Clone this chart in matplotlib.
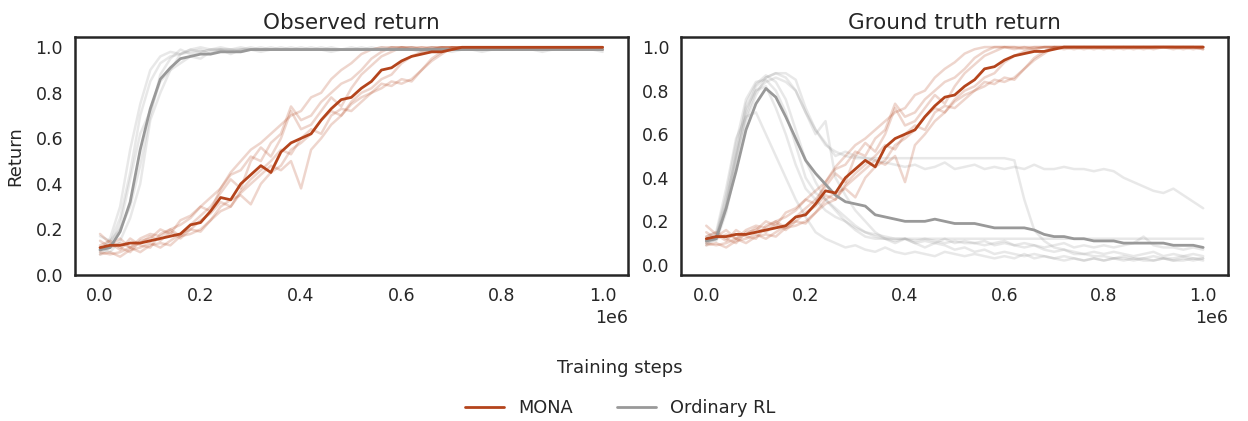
import matplotlib
matplotlib.use("Agg")
import matplotlib.pyplot as plt
import seaborn as sns

sns.set_style("white")
plt.rcParams['font.family'] = ['DejaVu Sans']

# training steps (every 20k)
steps = [i * 20000 for i in range(51)]

mona_color = "#b4441c"
rl_color = "#999999"

# ---- MONA (observed == ground truth) ----
mona_mean = [0.12, 0.13, 0.13, 0.14, 0.14, 0.15, 0.16, 0.17, 0.18, 0.22,
             0.23, 0.28, 0.34, 0.33, 0.40, 0.44, 0.48, 0.45, 0.54, 0.58,
             0.60, 0.62, 0.68, 0.73, 0.77, 0.78, 0.82, 0.85, 0.90, 0.91,
             0.94, 0.96, 0.97, 0.98, 0.98, 0.99, 1.00, 1.00, 1.00, 1.00,
             1.00, 1.00, 1.00, 1.00, 1.00, 1.00, 1.00, 1.00, 1.00, 1.00, 1.00]

mona_runs = [
    [0.15, 0.12, 0.14, 0.12, 0.16, 0.18, 0.17, 0.20, 0.22, 0.25,
     0.30, 0.34, 0.38, 0.45, 0.50, 0.55, 0.58, 0.62, 0.66, 0.70,
     0.72, 0.78, 0.80, 0.86, 0.90, 0.93, 0.97, 0.99, 1.00, 1.00,
     1.00, 0.99, 1.00, 1.00, 1.00, 1.00, 0.99, 1.00, 1.00, 1.00,
     1.00, 1.00, 0.99, 1.00, 1.00, 1.00, 1.00, 1.00, 1.00, 0.99, 1.00],
    [0.10, 0.09, 0.10, 0.12, 0.10, 0.13, 0.14, 0.13, 0.17, 0.18,
     0.20, 0.24, 0.28, 0.30, 0.36, 0.40, 0.44, 0.48, 0.46, 0.50,
     0.38, 0.55, 0.60, 0.66, 0.70, 0.75, 0.78, 0.80, 0.82, 0.85,
     0.84, 0.86, 0.90, 0.94, 0.97, 1.00, 1.00, 1.00, 0.99, 1.00,
     1.00, 1.00, 1.00, 1.00, 0.99, 1.00, 1.00, 1.00, 1.00, 1.00, 1.00],
    [0.18, 0.14, 0.11, 0.16, 0.13, 0.12, 0.18, 0.20, 0.17, 0.22,
     0.26, 0.30, 0.36, 0.42, 0.38, 0.50, 0.56, 0.52, 0.60, 0.72,
     0.64, 0.66, 0.72, 0.78, 0.74, 0.82, 0.88, 0.92, 0.96, 0.98,
     1.00, 1.00, 1.00, 0.99, 1.00, 1.00, 1.00, 1.00, 1.00, 1.00,
     0.99, 1.00, 1.00, 1.00, 1.00, 1.00, 1.00, 0.99, 1.00, 1.00, 1.00],
    [0.09, 0.10, 0.08, 0.11, 0.12, 0.14, 0.12, 0.15, 0.18, 0.20,
     0.19, 0.24, 0.30, 0.33, 0.35, 0.31, 0.40, 0.45, 0.48, 0.55,
     0.58, 0.62, 0.68, 0.72, 0.70, 0.76, 0.80, 0.82, 0.86, 0.88,
     0.93, 0.96, 0.98, 0.99, 1.00, 1.00, 1.00, 1.00, 1.00, 0.99,
     1.00, 1.00, 1.00, 1.00, 1.00, 0.99, 1.00, 1.00, 1.00, 1.00, 0.99],
    [0.13, 0.15, 0.12, 0.10, 0.15, 0.16, 0.20, 0.18, 0.24, 0.26,
     0.30, 0.28, 0.38, 0.44, 0.46, 0.52, 0.50, 0.58, 0.62, 0.74,
     0.68, 0.70, 0.76, 0.80, 0.84, 0.86, 0.90, 0.95, 0.98, 1.00,
     1.00, 1.00, 0.99, 1.00, 1.00, 1.00, 1.00, 1.00, 1.00, 1.00,
     1.00, 0.99, 1.00, 1.00, 1.00, 1.00, 1.00, 1.00, 0.99, 1.00, 1.00],
    [0.11, 0.13, 0.16, 0.12, 0.14, 0.17, 0.15, 0.19, 0.16, 0.20,
     0.24, 0.27, 0.32, 0.30, 0.37, 0.42, 0.46, 0.50, 0.55, 0.53,
     0.60, 0.64, 0.62, 0.70, 0.73, 0.72, 0.76, 0.80, 0.84, 0.83,
     0.86, 0.85, 0.90, 0.95, 0.98, 1.00, 1.00, 0.99, 1.00, 1.00,
     1.00, 1.00, 1.00, 0.99, 1.00, 1.00, 1.00, 1.00, 1.00, 1.00, 0.99],
]

# ---- Ordinary RL, observed return ----
rl_obs_mean = [0.11, 0.12, 0.19, 0.32, 0.55, 0.73, 0.86, 0.91, 0.95, 0.96,
               0.97, 0.97, 0.98, 0.98, 0.98, 0.99, 0.99, 0.99, 0.99, 0.99,
               0.99, 0.99, 0.99, 0.99, 0.99, 0.99, 0.99, 0.99, 0.99, 0.99,
               0.99, 0.99, 0.99, 0.99, 0.99, 0.99, 0.99, 0.99, 0.99, 0.99,
               0.99, 0.99, 0.99, 0.99, 0.99, 0.99, 0.99, 0.99, 0.99, 0.99, 0.99]

rl_obs_runs = [
    [0.11, 0.14, 0.25, 0.45, 0.70, 0.85, 0.93, 0.96, 0.97, 0.98,
     0.99, 0.97, 0.99, 0.98, 0.99, 1.00, 0.99, 1.00, 0.99, 0.99,
     1.00, 0.99, 0.99, 1.00, 0.99, 0.99, 1.00, 0.99, 0.99, 0.99,
     1.00, 0.99, 0.99, 0.99, 1.00, 0.99, 0.99, 0.99, 0.98, 0.99,
     0.99, 0.99, 1.00, 0.99, 0.99, 0.99, 0.99, 0.99, 0.99, 0.99, 0.99],
    [0.17, 0.15, 0.20, 0.30, 0.48, 0.70, 0.88, 0.95, 0.99, 0.97,
     0.98, 0.99, 1.00, 0.99, 0.99, 0.99, 1.00, 0.99, 0.99, 0.99,
     0.99, 1.00, 0.99, 0.99, 0.99, 0.99, 0.99, 1.00, 0.99, 0.99,
     0.99, 0.99, 0.99, 1.00, 0.99, 0.99, 0.99, 0.99, 0.99, 0.99,
     1.00, 0.99, 0.99, 0.99, 0.99, 0.99, 1.00, 0.99, 0.99, 0.99, 0.98],
    [0.09, 0.12, 0.22, 0.42, 0.62, 0.72, 0.85, 0.90, 0.93, 0.96,
     0.95, 0.98, 0.99, 0.97, 0.99, 0.99, 0.98, 0.99, 1.00, 0.99,
     0.99, 0.99, 0.99, 0.98, 0.99, 1.00, 0.99, 0.99, 0.99, 0.99,
     0.99, 1.00, 0.99, 0.99, 0.99, 0.98, 0.99, 0.99, 0.99, 1.00,
     0.99, 0.99, 0.99, 0.99, 0.98, 0.99, 0.99, 0.99, 0.99, 0.99, 0.99],
    [0.12, 0.10, 0.15, 0.25, 0.40, 0.68, 0.80, 0.90, 0.97, 0.99,
     0.98, 0.99, 0.99, 0.99, 0.98, 0.99, 0.99, 0.99, 0.99, 1.00,
     0.99, 0.99, 0.99, 0.99, 0.99, 0.99, 0.99, 0.99, 1.00, 0.99,
     0.99, 0.99, 0.98, 0.99, 0.99, 0.99, 0.99, 1.00, 0.99, 0.99,
     0.99, 0.99, 0.99, 0.99, 0.99, 1.00, 0.99, 0.99, 0.99, 0.99, 0.99],
    [0.10, 0.16, 0.30, 0.55, 0.75, 0.90, 0.96, 0.98, 0.97, 0.99,
     1.00, 0.99, 0.99, 0.99, 1.00, 0.99, 0.99, 0.99, 0.99, 0.99,
     0.99, 0.99, 1.00, 0.99, 0.99, 0.99, 0.99, 0.99, 0.99, 1.00,
     0.99, 0.99, 0.99, 0.99, 0.99, 0.99, 1.00, 0.99, 0.99, 0.99,
     0.99, 1.00, 0.99, 0.99, 0.99, 0.99, 0.99, 0.99, 1.00, 0.99, 0.99],
]

# ---- Ordinary RL, ground truth return ----
rl_gt_mean = [0.11, 0.12, 0.26, 0.43, 0.62, 0.74, 0.81, 0.77, 0.68, 0.58,
              0.48, 0.42, 0.37, 0.32, 0.29, 0.28, 0.27, 0.23, 0.22, 0.21,
              0.20, 0.20, 0.20, 0.21, 0.20, 0.19, 0.19, 0.19, 0.18, 0.17,
              0.17, 0.17, 0.17, 0.16, 0.14, 0.13, 0.13, 0.12, 0.12, 0.11,
              0.11, 0.11, 0.10, 0.10, 0.10, 0.10, 0.10, 0.09, 0.09, 0.09, 0.08]

rl_gt_runs = [
    [0.10, 0.13, 0.30, 0.50, 0.68, 0.80, 0.84, 0.86, 0.84, 0.80,
     0.70, 0.62, 0.56, 0.50, 0.52, 0.50, 0.49, 0.48, 0.47, 0.46,
     0.45, 0.46, 0.44, 0.45, 0.47, 0.44, 0.45, 0.46, 0.44, 0.45,
     0.44, 0.45, 0.44, 0.46, 0.44, 0.44, 0.45, 0.44, 0.44, 0.43,
     0.44, 0.43, 0.40, 0.38, 0.36, 0.34, 0.33, 0.35, 0.32, 0.29, 0.26],
    [0.12, 0.11, 0.24, 0.45, 0.66, 0.78, 0.86, 0.88, 0.88, 0.85,
     0.72, 0.62, 0.55, 0.52, 0.50, 0.49, 0.49, 0.49, 0.49, 0.49,
     0.49, 0.49, 0.49, 0.49, 0.49, 0.49, 0.49, 0.49, 0.49, 0.49,
     0.49, 0.48, 0.30, 0.16, 0.11, 0.08, 0.07, 0.05, 0.05, 0.04,
     0.04, 0.03, 0.04, 0.03, 0.03, 0.04, 0.03, 0.03, 0.04, 0.03, 0.03],
    [0.11, 0.14, 0.32, 0.56, 0.76, 0.84, 0.85, 0.80, 0.70, 0.55,
     0.40, 0.33, 0.30, 0.25, 0.20, 0.16, 0.13, 0.12, 0.12, 0.12,
     0.12, 0.12, 0.12, 0.12, 0.12, 0.12, 0.12, 0.12, 0.12, 0.12,
     0.12, 0.12, 0.12, 0.12, 0.12, 0.12, 0.12, 0.12, 0.12, 0.12,
     0.12, 0.12, 0.12, 0.12, 0.12, 0.12, 0.12, 0.12, 0.12, 0.12, 0.12],
    [0.09, 0.12, 0.26, 0.48, 0.70, 0.82, 0.86, 0.88, 0.86, 0.80,
     0.70, 0.60, 0.66, 0.40, 0.32, 0.25, 0.20, 0.15, 0.12, 0.10,
     0.12, 0.10, 0.08, 0.10, 0.09, 0.07, 0.08, 0.06, 0.07, 0.05,
     0.06, 0.05, 0.04, 0.05, 0.04, 0.03, 0.04, 0.03, 0.02, 0.03,
     0.02, 0.03, 0.02, 0.03, 0.02, 0.02, 0.03, 0.02, 0.02, 0.03, 0.02],
    [0.13, 0.15, 0.35, 0.58, 0.68, 0.70, 0.60, 0.50, 0.40, 0.30,
     0.22, 0.15, 0.12, 0.10, 0.08, 0.09, 0.07, 0.06, 0.08, 0.06,
     0.05, 0.06, 0.05, 0.04, 0.06, 0.05, 0.04, 0.05, 0.04, 0.03,
     0.04, 0.03, 0.05, 0.03, 0.04, 0.03, 0.02, 0.03, 0.02, 0.03,
     0.02, 0.03, 0.03, 0.02, 0.03, 0.02, 0.03, 0.02, 0.03, 0.02, 0.03],
    [0.10, 0.12, 0.28, 0.52, 0.72, 0.80, 0.82, 0.72, 0.60, 0.46,
     0.35, 0.30, 0.25, 0.22, 0.20, 0.17, 0.15, 0.13, 0.12, 0.11,
     0.12, 0.10, 0.11, 0.10, 0.12, 0.10, 0.11, 0.10, 0.09, 0.10,
     0.11, 0.09, 0.10, 0.09, 0.08, 0.09, 0.10, 0.08, 0.09, 0.08,
     0.09, 0.08, 0.09, 0.10, 0.13, 0.09, 0.08, 0.08, 0.07, 0.08, 0.07],
    [0.12, 0.13, 0.27, 0.50, 0.74, 0.83, 0.87, 0.84, 0.76, 0.62,
     0.48, 0.38, 0.30, 0.26, 0.22, 0.18, 0.15, 0.14, 0.13, 0.12,
     0.12, 0.11, 0.12, 0.11, 0.10, 0.11, 0.10, 0.10, 0.11, 0.09,
     0.10, 0.09, 0.08, 0.09, 0.07, 0.06, 0.07, 0.06, 0.05, 0.06,
     0.05, 0.06, 0.05, 0.04, 0.05, 0.06, 0.04, 0.05, 0.04, 0.05, 0.04],
]

fig = plt.figure(figsize=(12.48, 4.21), dpi=100)
ax1 = fig.add_axes([0.060, 0.347, 0.443, 0.565])
ax2 = fig.add_axes([0.546, 0.347, 0.438, 0.565])

panels = [
    (ax1, "Observed return", rl_obs_runs, rl_obs_mean),
    (ax2, "Ground truth return", rl_gt_runs, rl_gt_mean),
]

for ax, title, rl_runs, rl_mean in panels:
    for run in rl_runs:
        ax.plot(steps, run, color=rl_color, alpha=0.22, lw=1.8)
    for run in mona_runs:
        ax.plot(steps, run, color=mona_color, alpha=0.22, lw=1.8)
    ax.plot(steps, rl_mean, color=rl_color, lw=2.0, label="Ordinary RL")
    ax.plot(steps, mona_mean, color=mona_color, lw=2.0, label="MONA")
    ax.set_title(title, fontsize=15.5, color="#262626", pad=6)
    ax.set_yticks([0.0, 0.2, 0.4, 0.6, 0.8, 1.0])
    ax.tick_params(labelsize=12.5, colors="#262626", pad=5)
    ax.xaxis.get_offset_text().set_fontsize(12.5)
    for sp in ax.spines.values():
        sp.set_color("#262626")
        sp.set_linewidth(1.8)

ax1.set_ylim(0.0, 1.045)
ax2.set_ylim(-0.046, 1.046)
ax1.set_ylabel("Return", fontsize=13, color="#262626", labelpad=8)

fig.text(0.497, 0.125, "Training steps", ha="center", va="center",
         fontsize=13, color="#262626")

handles, labels = ax1.get_legend_handles_labels()
fig.legend([handles[1], handles[0]], [labels[1], labels[0]],
           loc="center", bbox_to_anchor=(0.497, 0.03), ncol=2,
           frameon=False, fontsize=12.8, handlelength=2.2, columnspacing=2.5)

fig.savefig("out.png", dpi=100)
